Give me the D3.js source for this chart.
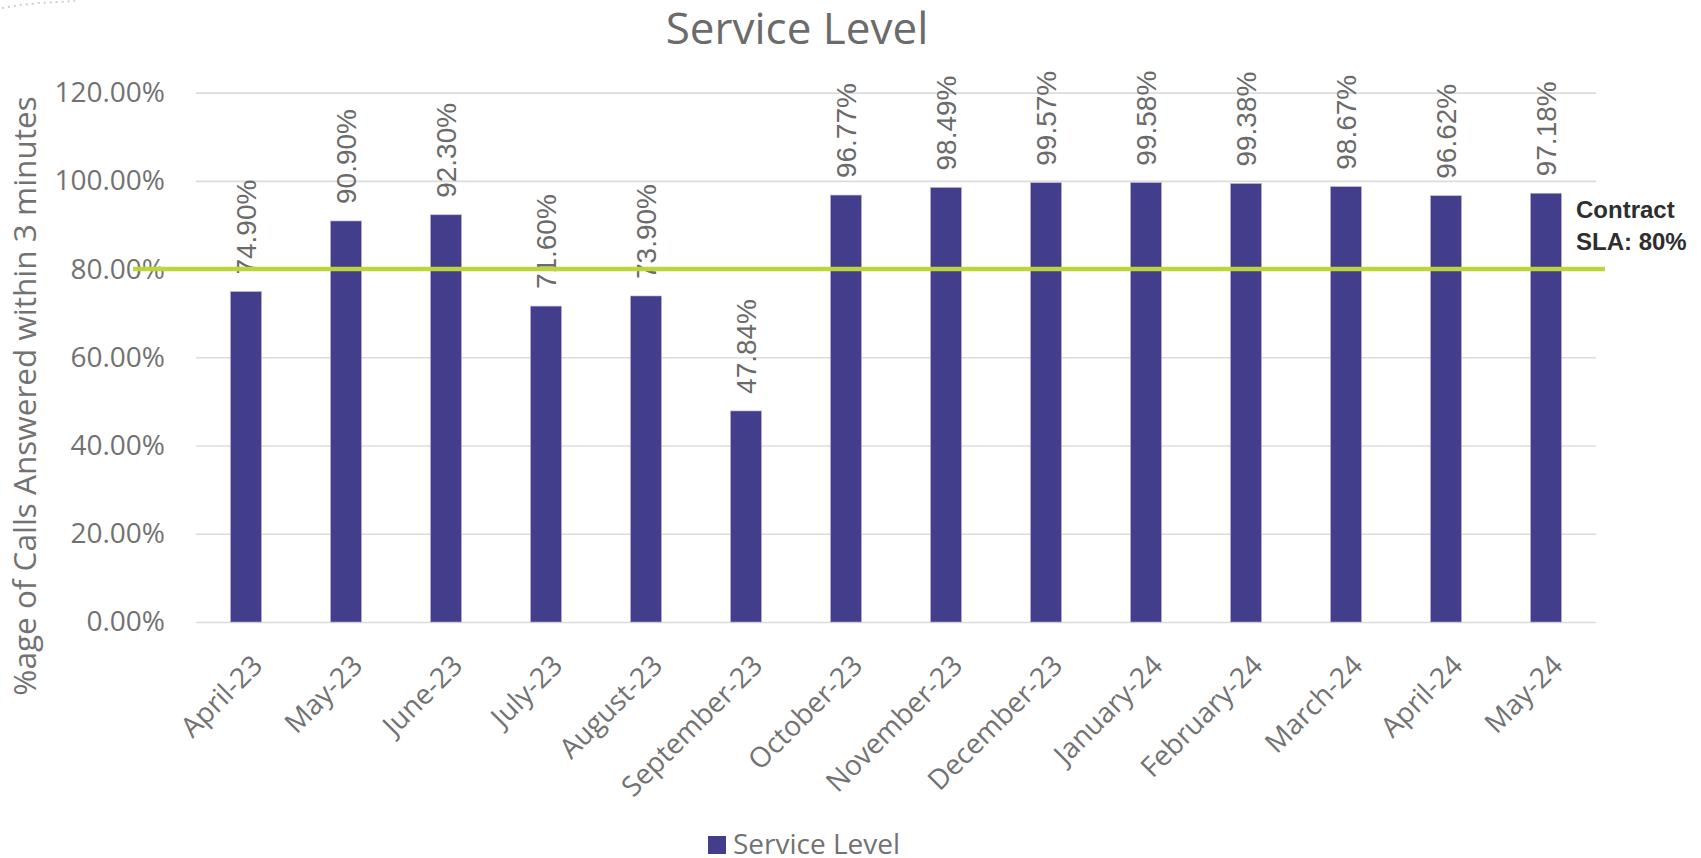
<!DOCTYPE html>
<html>
<head>
<meta charset="utf-8">
<script src="https://cdn.jsdelivr.net/npm/d3@7"></script>
<style>
  html, body { margin: 0; padding: 0; background: #ffffff; }
  svg { display: block; }
</style>
</head>
<body>
<svg id="chart" width="1701" height="858"></svg>
<script>
// Monthly service level (% of calls answered within 3 minutes)
const months = ["April-23", "May-23", "June-23", "July-23", "August-23", "September-23",
  "October-23", "November-23", "December-23", "January-24", "February-24", "March-24",
  "April-24", "May-24"];
const serviceLevel = [74.90, 90.90, 92.30, 71.60, 73.90, 47.84, 96.77, 98.49, 99.57,
  99.58, 99.38, 98.67, 96.62, 97.18];
const yTicks = [0, 20, 40, 60, 80, 100, 120];
const contractSLA = 80;

const svg = d3.select("#chart");
const plot = { left: 196, right: 1596, top: 92.6, bottom: 622 };

const barColor = "#433e8b";
const textGrey = "#727272";
const catFont = "'Open Sans', sans-serif";

const x = d3.scaleBand()
  .domain(months)
  .range([plot.left, plot.right])
  .paddingInner(0.69)
  .paddingOuter(0.345);

const y = d3.scaleLinear()
  .domain([0, 120])
  .range([plot.bottom, plot.top]);

// faint dotted frame remnant in the top-left corner
svg.append("path")
  .attr("d", "M2,8 L20,5 L40,3 L75,1")
  .attr("fill", "none")
  .attr("stroke", "#cfcfcf")
  .attr("stroke-width", 2)
  .attr("stroke-dasharray", "2,4");

// title
svg.append("text")
  .attr("x", 797).attr("y", 44)
  .attr("text-anchor", "middle")
  .style("font-family", catFont)
  .style("font-size", "44px")
  .attr("fill", "#6b6b6b")
  .text("Service Level");

// gridlines + y tick labels
const yAxis = svg.append("g")
  .attr("transform", `translate(${plot.left},0)`)
  .call(d3.axisLeft(y)
    .tickValues(yTicks)
    .tickSize(-(plot.right - plot.left))
    .tickPadding(31)
    .tickFormat(d => d.toFixed(2) + "%"));
yAxis.select(".domain").remove();
yAxis.selectAll(".tick line")
  .attr("stroke", "#dcdcdc")
  .attr("stroke-width", 1.6);
yAxis.selectAll(".tick text")
  .style("font-family", catFont)
  .style("font-size", "28px")
  .attr("fill", textGrey);

// y axis title
svg.append("text")
  .attr("transform", "translate(36,396) rotate(-90)")
  .attr("text-anchor", "middle")
  .style("font-family", catFont)
  .style("font-size", "31.5px")
  .attr("fill", textGrey)
  .text("%age of Calls Answered within 3 minutes");

// bars
svg.append("g")
  .selectAll("rect")
  .data(serviceLevel)
  .join("rect")
  .attr("x", (d, i) => x(months[i]))
  .attr("width", x.bandwidth())
  .attr("y", d => y(d))
  .attr("height", d => y(0) - y(d))
  .attr("fill", barColor)
  .attr("stroke", "#b3b0dc")
  .attr("stroke-width", 0.6);

// x axis category labels
const xAxis = svg.append("g")
  .attr("transform", `translate(0,${plot.bottom})`)
  .call(d3.axisBottom(x).tickSize(0).tickPadding(0));
xAxis.select(".domain").remove();
xAxis.selectAll(".tick text")
  .attr("text-anchor", "end")
  .attr("x", 0).attr("y", 0).attr("dy", "0.72em")
  .attr("transform", "translate(4,31) rotate(-45)")
  .style("font-family", catFont)
  .style("font-size", "28px")
  .attr("fill", textGrey);

// value labels above bars
svg.append("g")
  .selectAll("text")
  .data(serviceLevel)
  .join("text")
  .attr("transform", (d, i) => `translate(${x(months[i]) + x.bandwidth() / 2},${y(d) - 17}) rotate(-90)`)
  .attr("dy", "0.36em")
  .attr("text-anchor", "start")
  .style("font-family", "'Liberation Sans', Arial, sans-serif")
  .style("font-size", "28px")
  .attr("fill", "#6a6a6a")
  .text(d => d.toFixed(2) + "%");

// contract SLA reference line
svg.append("line")
  .attr("x1", 133).attr("x2", 1605)
  .attr("y1", y(contractSLA)).attr("y2", y(contractSLA))
  .attr("stroke", "#bdd43a")
  .attr("stroke-width", 4.5);

const slaLabel = svg.append("text")
  .style("font-family", "'Liberation Sans', Arial, sans-serif")
  .style("font-size", "24px")
  .style("font-weight", "bold")
  .attr("fill", "#2e2e2e");
slaLabel.append("tspan").attr("x", 1576).attr("y", 218).text("Contract");
slaLabel.append("tspan").attr("x", 1576).attr("y", 250).text("SLA: " + contractSLA + "%");

// legend
const legend = svg.append("g").attr("transform", "translate(708,836)");
legend.append("rect")
  .attr("width", 18).attr("height", 18)
  .attr("fill", barColor);
legend.append("text")
  .attr("x", 25).attr("y", 18)
  .style("font-family", catFont)
  .style("font-size", "28px")
  .attr("fill", textGrey)
  .text("Service Level");
</script>
</body>
</html>
